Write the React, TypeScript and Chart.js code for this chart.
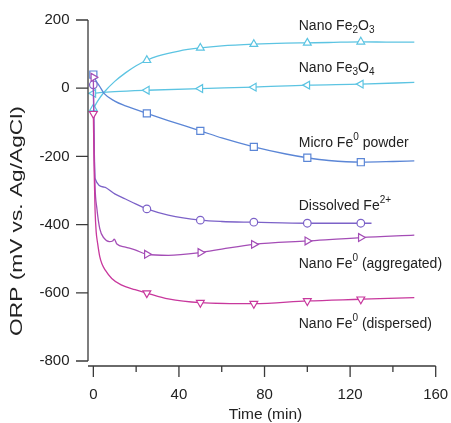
import React, { useEffect, useRef } from "react";
import { Chart, registerables } from "chart.js";

Chart.register(...registerables);

const FONT = "'Liberation Sans', Arial, Helvetica, sans-serif";

// Axis ticks
const xTickValues = [0, 40, 80, 120, 160];
const xMinorTickValues = [20, 60, 100, 140];
const yTickValues = [200, 0, -200, -400, -600, -800];
// Times (min) at which the open markers are drawn
const markerTimes = [0, 25, 50, 75, 100, 125];

// Nano Fe2O3
const fe2o3Time = [0, 2, 5, 10, 15, 20, 25, 30, 40, 50, 60, 75, 90, 100, 110, 125, 140, 150];
const fe2o3Orp = [-60, -38, -12, 20, 45, 66, 82, 94, 109, 118, 124, 129, 132, 133, 134, 136, 135, 135];

// Nano Fe3O4
const fe3o4Time = [0, 3, 10, 25, 50, 75, 100, 125, 150];
const fe3o4Orp = [-15, -13, -10, -6, -1, 3, 9, 12, 17];

// Micro Fe0 powder
const microTime = [0, 1, 3, 5, 10, 15, 20, 25, 35, 50, 60, 75, 90, 100, 110, 125, 140, 150];
const microOrp = [40, 25, 5, -15, -38, -52, -63, -74, -95, -125, -146, -172, -193, -204, -212, -217, -215, -213];

// Dissolved Fe2+
const dissolvedTime = [0, 0.5, 0.8, 5, 10, 15, 20, 25, 35, 50, 60, 75, 100, 125, 130];
const dissolvedOrp = [10, -200, -265, -290, -310, -325, -340, -354, -372, -387, -391, -393, -396, -396, -396];

// Nano Fe0 (aggregated)
const aggregatedTime = [0, 0.3, 0.8, 1.6, 3, 5, 7.5, 9, 9.8, 11, 15, 19.5, 25, 35, 50, 60, 75, 100, 125, 150];
const aggregatedOrp = [32, -150, -290, -350, -412, -440, -450, -448, -443, -457, -466, -474, -487, -490, -482, -472, -458, -448, -438, -431];

// Nano Fe0 (dispersed)
const dispersedTime = [0, 0.4, 0.8, 1.3, 2, 3, 4, 5.5, 8.6, 13, 19.5, 25, 35, 50, 75, 100, 125, 150];
const dispersedOrp = [-75, -250, -357, -420, -455, -494, -515, -533, -558, -577, -591, -601, -618, -629, -632, -624, -619, -614];

type Seg = { t: string; m?: "sub" | "sup" };

// Series names, with chemical sub/superscripts
const fe2o3Name: Seg[] = [{ t: "Nano Fe" }, { t: "2", m: "sub" }, { t: "O" }, { t: "3", m: "sub" }];
const fe3o4Name: Seg[] = [{ t: "Nano Fe" }, { t: "3", m: "sub" }, { t: "O" }, { t: "4", m: "sub" }];
const microName: Seg[] = [{ t: "Micro Fe" }, { t: "0", m: "sup" }, { t: " powder" }];
const dissolvedName: Seg[] = [{ t: "Dissolved Fe" }, { t: "2+", m: "sup" }];
const aggregatedName: Seg[] = [{ t: "Nano Fe" }, { t: "0", m: "sup" }, { t: " (aggregated)" }];
const dispersedName: Seg[] = [{ t: "Nano Fe" }, { t: "0", m: "sup" }, { t: " (dispersed)" }];

// Where each series name sits (time, ORP) on the plot
const nameTime = 96;
const nameOrp = [170, 47, -171, -357, -527, -703];

const CYAN = "#5cc4e2";
const BLUE = "#5b86d6";
const PURPLE = "#7c62c8";
const VIOLET = "#a44db6";
const MAGENTA = "#c8389d";
const INK = "#222222";
const AXIS = "#3a3a3a";

const toPoints = (ts: number[], vs: number[]) => ts.map((t, i) => ({ x: t, y: vs[i] }));

function series(
  label: string,
  ts: number[],
  vs: number[],
  color: string,
  pointStyle: string,
  rotation: number,
  radius: number
) {
  return {
    label,
    data: toPoints(ts, vs),
    borderColor: color,
    borderWidth: 1.3,
    pointStyle,
    rotation,
    pointRotation: rotation,
    pointBorderColor: color,
    pointBackgroundColor: "#ffffff",
    pointBorderWidth: 1.2,
    pointRadius: (ctx: any) => (ctx.raw && markerTimes.includes(ctx.raw.x) ? radius : 0),
    cubicInterpolationMode: "monotone" as const,
    fill: false,
  };
}

function drawRich(ctx: CanvasRenderingContext2D, segs: Seg[], x: number, y: number) {
  let cx = x;
  for (const s of segs) {
    if (s.m) {
      ctx.font = `10px ${FONT}`;
      ctx.fillText(s.t, cx, s.m === "sub" ? y + 3 : y - 7);
    } else {
      ctx.font = `14px ${FONT}`;
      ctx.fillText(s.t, cx, y);
    }
    cx += ctx.measureText(s.t).width;
  }
}

const axesPlugin = {
  id: "igorAxes",
  afterDraw(chart: any) {
    const ctx: CanvasRenderingContext2D = chart.ctx;
    const xs = chart.scales.x;
    const ys = chart.scales.y;
    const area = chart.chartArea;
    ctx.save();
    ctx.strokeStyle = AXIS;
    ctx.lineWidth = 1.3;

    // y axis line, from top tick to bottom tick
    const yTop = ys.getPixelForValue(yTickValues[0]);
    const yBot = ys.getPixelForValue(yTickValues[yTickValues.length - 1]);
    const ax = area.left;
    ctx.beginPath();
    ctx.moveTo(ax, yTop);
    ctx.lineTo(ax, yBot);
    for (const v of yTickValues) {
      const p = ys.getPixelForValue(v);
      ctx.moveTo(ax, p);
      ctx.lineTo(ax - 12, p);
    }
    ctx.stroke();

    // x axis line, detached below the plot
    const by = area.bottom;
    ctx.beginPath();
    ctx.moveTo(area.left, by);
    ctx.lineTo(xs.getPixelForValue(160), by);
    for (const v of xTickValues) {
      const p = xs.getPixelForValue(v);
      ctx.moveTo(p, by);
      ctx.lineTo(p, by + 11);
    }
    for (const v of xMinorTickValues) {
      const p = xs.getPixelForValue(v);
      ctx.moveTo(p, by);
      ctx.lineTo(p, by + 6);
    }
    ctx.stroke();

    // axis titles
    ctx.fillStyle = INK;
    ctx.textAlign = "center";
    ctx.textBaseline = "alphabetic";
    ctx.font = `15.5px ${FONT}`;
    ctx.fillText("Time (min)", (xs.getPixelForValue(0) + xs.getPixelForValue(160)) / 2 + 1, 419);

    ctx.save();
    ctx.translate(18, 221);
    ctx.rotate(-Math.PI / 2);
    ctx.scale(1.42, 1);
    ctx.textBaseline = "middle";
    ctx.font = `16px ${FONT}`;
    ctx.fillText("ORP (mV vs. Ag/AgCl)", 0, 0);
    ctx.restore();

    // series names
    ctx.textAlign = "left";
    ctx.textBaseline = "alphabetic";
    const names = [fe2o3Name, fe3o4Name, microName, dissolvedName, aggregatedName, dispersedName];
    names.forEach((segs, i) => {
      drawRich(ctx, segs, xs.getPixelForValue(nameTime), ys.getPixelForValue(nameOrp[i]));
    });
    ctx.restore();
  },
};

const noEdgePadding = (s: any) => {
  s.paddingLeft = 0;
  s.paddingRight = 0;
  s.paddingTop = 0;
  s.paddingBottom = 0;
};

export default function App() {
  const ref = useRef<HTMLCanvasElement | null>(null);

  useEffect(() => {
    if (!ref.current) return;
    const chart = new Chart(ref.current, {
      type: "line",
      data: {
        datasets: [
          series("Nano Fe0 (dispersed)", dispersedTime, dispersedOrp, MAGENTA, "triangle", 180, 4.5),
          series("Nano Fe0 (aggregated)", aggregatedTime, aggregatedOrp, VIOLET, "triangle", 90, 4.5),
          series("Dissolved Fe2+", dissolvedTime, dissolvedOrp, PURPLE, "circle", 0, 3.8),
          series("Micro Fe0 powder", microTime, microOrp, BLUE, "rect", 0, 5),
          series("Nano Fe3O4", fe3o4Time, fe3o4Orp, CYAN, "triangle", -90, 4.5),
          series("Nano Fe2O3", fe2o3Time, fe2o3Orp, CYAN, "triangle", 0, 4.5),
        ] as any,
      },
      options: {
        animation: false,
        responsive: false,
        maintainAspectRatio: false,
        layout: { padding: { top: 20, right: 15.3, bottom: 0, left: 0 } },
        plugins: { legend: { display: false }, tooltip: { enabled: false } },
        scales: {
          x: {
            type: "linear",
            min: -2.5,
            max: 160,
            grid: { display: false, drawTicks: false },
            border: { display: false },
            afterBuildTicks: (s: any) => {
              s.ticks = xTickValues.map((v) => ({ value: v }));
            },
            afterFit: (s: any) => {
              s.height = 57;
              noEdgePadding(s);
            },
            ticks: {
              font: { family: FONT, size: 15 },
              color: INK,
              padding: 20,
              maxRotation: 0,
              autoSkip: false,
            },
          },
          y: {
            type: "linear",
            min: -814.7,
            max: 200,
            grid: { display: false, drawTicks: false },
            border: { display: false },
            afterBuildTicks: (s: any) => {
              s.ticks = yTickValues.map((v) => ({ value: v }));
            },
            afterFit: (s: any) => {
              s.width = 88;
              noEdgePadding(s);
            },
            ticks: {
              font: { family: FONT, size: 15 },
              color: INK,
              padding: 18.5,
              autoSkip: false,
            },
          },
        },
      } as any,
      plugins: [axesPlugin],
    });
    return () => chart.destroy();
  }, []);

  return (
    <div style={{ position: "absolute", left: 0, top: 0, width: 451, height: 423, background: "#fff" }}>
      <canvas ref={ref} width={451} height={423} style={{ display: "block" }} />
    </div>
  );
}
